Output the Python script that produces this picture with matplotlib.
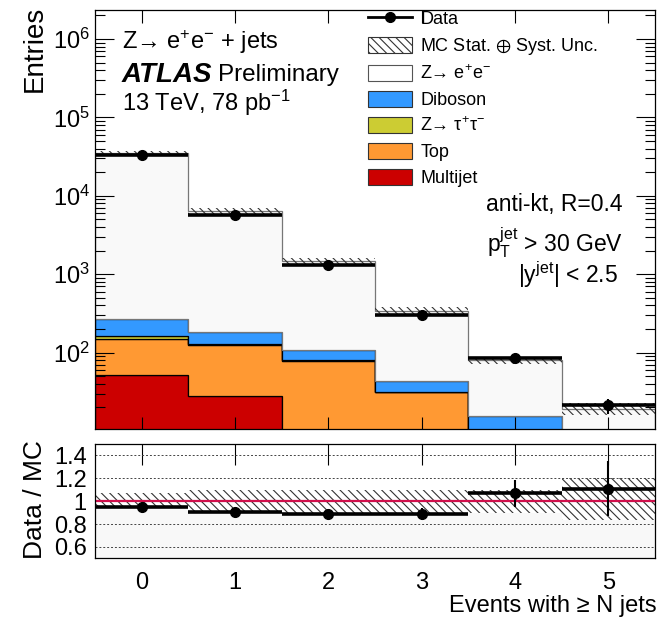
import matplotlib
matplotlib.use('Agg')
import matplotlib.pyplot as plt
from matplotlib.patches import Patch
from matplotlib.lines import Line2D
import numpy as np

plt.rcParams['font.family'] = ['Liberation Sans', 'DejaVu Sans']
plt.rcParams['mathtext.fontset'] = 'custom'
plt.rcParams['mathtext.rm'] = 'Liberation Sans'
plt.rcParams['mathtext.it'] = 'Liberation Sans'
plt.rcParams['mathtext.bf'] = 'Liberation Sans:bold'
plt.rcParams['mathtext.default'] = 'regular'
plt.rcParams['hatch.linewidth'] = 0.8

# jet multiplicity bins (events with >= N jets)
njets = [0, 1, 2, 3, 4, 5]

# stacked MC components, bottom to top
multijet = [52, 28, 0, 0, 0, 0]
top = [99, 98, 79, 31, 5, 1.5]
ztautau = [12, 2, 1, 0.3, 0.1, 0]
diboson = [107, 55, 29, 11.5, 10.5, 2.5]
zee = [34400, 6160, 1360, 301, 65, 15.2]

# data and its statistical error
data = [33000, 5730, 1300, 305, 86, 21.3]
data_err = [182, 76, 36, 17.5, 9.3, 4.6]

# relative MC stat+syst uncertainty (up / down)
unc_up = [0.072, 0.10, 0.10, 0.10, 0.10, 0.20]
unc_dn = [0.05, 0.10, 0.10, 0.10, 0.10, 0.166]

HATCH = '\\\\\\\\'

x = np.array(njets, dtype=float)
edges = np.append(x - 0.5, x[-1] + 0.5)
data = np.array(data)
data_err = np.array(data_err)

fig = plt.figure(figsize=(6.63, 6.22), dpi=100)
ax = fig.add_axes([0.1433, 0.3103, 0.8446, 0.6736])
ax2 = fig.add_axes([0.1433, 0.1024, 0.8446, 0.1838])

# ---- main panel: stacked histogram
components = [
    (multijet, '#cc0000', 'k'),
    (top, '#ff9933', 'k'),
    (ztautau, '#cccc33', 'k'),
    (diboson, '#3399ff', 'k'),
    (zee, '#f9f9f9', '#777777'),
]
cum = np.zeros(len(x))
for vals, fc, ec in components:
    new = cum + np.array(vals, dtype=float)
    lower = np.where(cum > 0, cum, 1.0)
    ax.stairs(np.where(new > 0, new, 1.0), edges, baseline=lower, fill=True,
              facecolor=fc, edgecolor=ec, linewidth=0.9)
    cum = new
mc = cum
up = np.array(unc_up)
dn = np.array(unc_dn)

ax.stairs(mc * (1 + up), edges, baseline=mc * (1 - dn), fill=True,
          facecolor='none', edgecolor='#333333', hatch=HATCH, linewidth=0)
ax.hlines(data, edges[:-1], edges[1:], color='k', lw=2.6)
ax.errorbar(x, data, yerr=data_err, fmt='o', color='k', ms=7, elinewidth=1.5, capsize=0)

ax.set_yscale('log')
ax.set_ylim(10.6, 2.34e6)
ax.set_xlim(-0.5, 5.5)
ax.set_xticks(x)
ax.tick_params(axis='x', which='both', direction='in', top=True, bottom=True,
               labelbottom=False, length=9, width=0.8)
ax.tick_params(axis='y', which='major', direction='in', left=True, right=True,
               length=14, width=0.8, labelsize=17)
ax.tick_params(axis='y', which='minor', direction='in', left=True, right=True,
               length=7, width=0.8)

handles = [
    Line2D([0], [0], color='k', marker='o', lw=2, ms=7),
    Patch(facecolor='white', edgecolor='#333333', hatch=HATCH, linewidth=0.8),
    Patch(facecolor='white', edgecolor='#555555', linewidth=0.8),
    Patch(facecolor='#3399ff', edgecolor='#333333', linewidth=0.8),
    Patch(facecolor='#cccc33', edgecolor='#333333', linewidth=0.8),
    Patch(facecolor='#ff9933', edgecolor='#333333', linewidth=0.8),
    Patch(facecolor='#cc0000', edgecolor='#333333', linewidth=0.8),
]
labels = ['Data', r'MC Stat. $\oplus$ Syst. Unc.', 'Z→ e$^{+}$e$^{-}$', 'Diboson',
          'Z→ τ$^{+}$τ$^{-}$', 'Top', 'Multijet']
fig.legend(handles, labels, loc='upper left', bbox_to_anchor=(368 / 663, 1 - 10 / 622),
           frameon=False, fontsize=13, handlelength=2.45, handleheight=1.0,
           labelspacing=0.42, handletextpad=0.45, borderpad=0, borderaxespad=0)

fig.text(122 / 663, 1 - 42 / 622, 'Z→ e$^{+}$e$^{-}$ + jets', fontsize=17, va='center')
fig.text(122 / 663, 1 - 75 / 622, 'ATLAS', fontsize=20, va='center',
         fontweight='bold', fontstyle='italic')
fig.text(218 / 663, 1 - 75 / 622, 'Preliminary', fontsize=17.5, va='center')
fig.text(122 / 663, 1 - 103 / 622, '13 TeV, 78 pb$^{-1}$', fontsize=17, va='center')

fig.text(623 / 663, 1 - 205 / 622, 'anti-kt, R=0.4', fontsize=16.5, va='center', ha='right')
fig.text(623 / 663, 1 - 243 / 622, r'$p_{T}^{jet}$ > 30 GeV', fontsize=16.5, va='center', ha='right')
fig.text(618 / 663, 1 - 275 / 622, r'$|y^{jet}|$ < 2.5', fontsize=16.5, va='center', ha='right')

fig.text(35 / 663, 1 - 6 / 622, 'Entries', fontsize=20, rotation=90, ha='center', va='top')

# ---- ratio panel
ratio = data / mc
ratio_err = data_err / mc
ax2.stairs(1 - dn, edges, baseline=0.5, fill=True, facecolor='#f8f8f8', linewidth=0)
ax2.stairs(1 + up, edges, baseline=1 - dn, fill=True, facecolor='none',
           edgecolor='#333333', hatch=HATCH, linewidth=0)
for yg in [0.6, 0.8, 1.2, 1.4]:
    ax2.axhline(yg, color='#444444', lw=0.7, ls=(0, (2, 2)))
ax2.axhline(1.0, color='#d0104c', lw=1.6)
ax2.hlines(ratio, edges[:-1], edges[1:], color='k', lw=2.6)
ax2.errorbar(x, ratio, yerr=ratio_err, fmt='o', color='k', ms=7, elinewidth=1.5, capsize=0)

ax2.set_xlim(-0.5, 5.5)
ax2.set_ylim(0.5, 1.5)
ax2.set_xticks(x)
ax2.set_xticklabels([str(n) for n in njets])
ax2.set_yticks([0.6, 0.8, 1.0, 1.2, 1.4])
ax2.set_yticklabels(['0.6', '0.8', '1', '1.2', '1.4'])
ax2.tick_params(axis='x', direction='in', top=True, bottom=False, length=15,
                width=0.8, labelsize=17, pad=10)
ax2.tick_params(axis='y', length=0, labelsize=17, pad=6)

fig.text(657 / 663, 1 - 606 / 622, 'Events with ≥ N jets', fontsize=17, ha='right', va='center')
fig.text(35 / 663, 1 - 500 / 622, 'Data / MC', fontsize=19, rotation=90, ha='center', va='center')

for a in (ax, ax2):
    for s in a.spines.values():
        s.set_linewidth(0.9)

fig.savefig('out.png', dpi=100)
